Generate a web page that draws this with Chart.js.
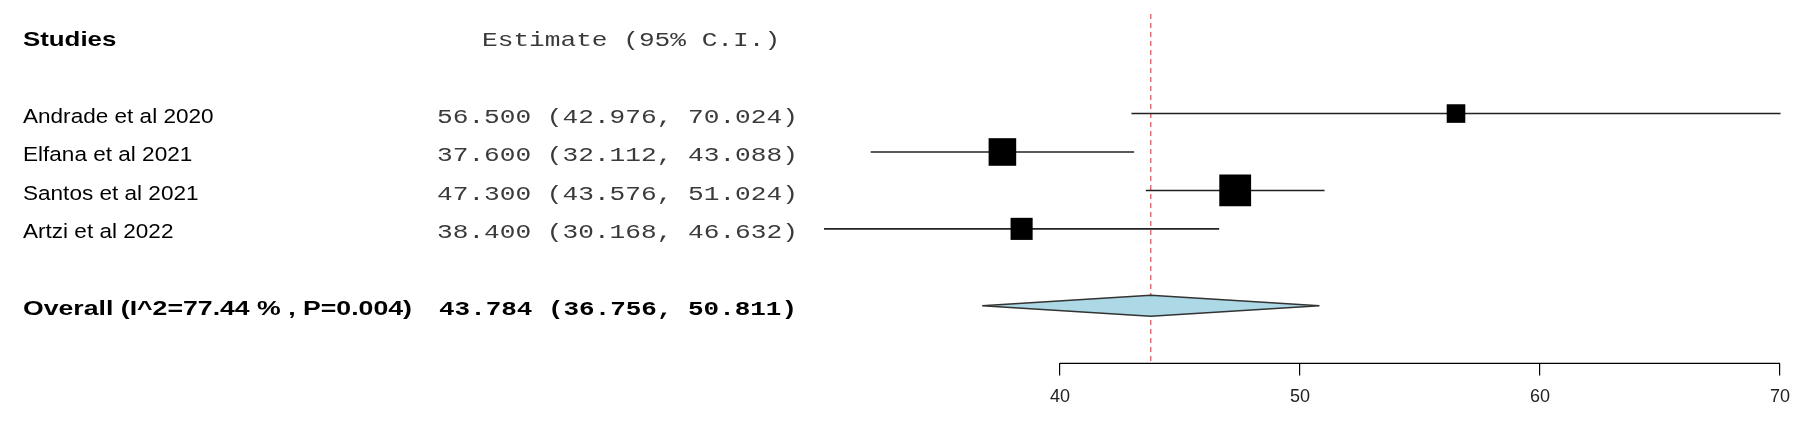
<!DOCTYPE html>
<html>
<head>
<meta charset="utf-8">
<script src="https://cdn.jsdelivr.net/npm/chart.js@4.4.0/dist/chart.umd.min.js"></script>
<style>
  html, body { margin: 0; padding: 0; background: #fff; }
</style>
</head>
<body>
<canvas id="forestChart" width="1807" height="426"></canvas>
<script>
// donnees
const studies = ["Andrade et al 2020", "Elfana et al 2021", "Santos et al 2021", "Artzi et al 2022"];
const estimates = [56.5, 37.6, 47.3, 38.4];
const lowerCI = [42.976, 32.112, 43.576, 30.168];
const upperCI = [70.024, 43.088, 51.024, 46.632];
const weights = [18.6, 27.6, 31.8, 22.1]; // poids relatifs (%), estimes depuis la taille des carres
const overallLabel = "Overall (I^2=77.44 % , P=0.004)";
const overallEst = 43.784;
const overallLower = 36.756;
const overallUpper = 50.811;
const xTicks = [40, 50, 60, 70];

const headerRow = -2;
const overallRow = studies.length + 1;
const X_MIN = 28;
const Y_MIN = -2.59;
const Y_MAX = 6.5;
const BOX_SCALE = 1.0;      // px de cote par % de poids
const DIAMOND_HALF = 0.275; // demi-hauteur du losange en lignes

const sans = "'Liberation Sans', Arial, sans-serif";
const mono = "'Liberation Mono', 'Courier New', monospace";

function fmt(est, lo, hi) {
  return est.toFixed(3) + " (" + lo.toFixed(3) + ", " + hi.toFixed(3) + ")";
}

function drawText(ctx, text, x, y, font, color, sx) {
  ctx.save();
  ctx.translate(x, y);
  ctx.scale(sx, 1);
  ctx.font = font;
  ctx.fillStyle = color;
  ctx.textAlign = "left";
  ctx.textBaseline = "alphabetic";
  ctx.fillText(text, 0, 0);
  ctx.restore();
}

// colonnes de texte a gauche
const textColumns = {
  id: "textColumns",
  afterDraw(chart) {
    const ctx = chart.ctx;
    const y = chart.scales.y;
    const base = (row) => y.getPixelForValue(row) + 9.5;

    drawText(ctx, "Studies", 23, base(headerRow), "bold 20.5px " + sans, "#000", 1.26);
    drawText(ctx, "Estimate (95% C.I.)", 482, base(headerRow), "21px " + mono, "#3a3a3a", 1.245);

    studies.forEach((name, i) => {
      drawText(ctx, name, 23, base(i), "20.5px " + sans, "#000", 1.10);
      drawText(ctx, fmt(estimates[i], lowerCI[i], upperCI[i]), 437, base(i), "21px " + mono, "#3a3a3a", 1.245);
    });

    drawText(ctx, overallLabel, 23, base(overallRow), "bold 20.5px " + sans, "#000", 1.30);
    drawText(ctx, fmt(overallEst, overallLower, overallUpper), 439, base(overallRow), "bold 21px " + mono, "#000", 1.235);
  },
};

// lignes des intervalles de confiance
const ciDatasets = studies.map((name, i) => ({
  type: "scatter",
  label: name,
  data: [
    { x: lowerCI[i], y: i },
    { x: upperCI[i], y: i },
  ],
  showLine: true,
  borderColor: "#222",
  borderWidth: 1.6,
  pointRadius: 0,
  clip: false,
  order: 2,
}));

const datasets = [
  {
    type: "scatter",
    label: "Poids",
    data: estimates.map((v, i) => ({ x: v, y: i })),
    pointStyle: "rect",
    pointRadius: weights.map((w) => (w * BOX_SCALE) / (2 * Math.SQRT1_2)),
    pointBackgroundColor: "#000",
    pointBorderWidth: 0,
    showLine: false,
    clip: false,
    order: 0,
  },
  {
    type: "scatter",
    label: "Overall",
    data: [
      { x: overallLower, y: overallRow },
      { x: overallEst, y: overallRow - DIAMOND_HALF },
      { x: overallUpper, y: overallRow },
      { x: overallEst, y: overallRow + DIAMOND_HALF },
      { x: overallLower, y: overallRow },
    ],
    showLine: true,
    fill: "shape",
    backgroundColor: "#add8e6",
    borderColor: "#333",
    borderWidth: 1.5,
    pointRadius: 0,
    clip: false,
    order: 1,
  },
  ...ciDatasets,
  {
    type: "scatter",
    label: "Ref",
    data: [
      { x: overallEst, y: Y_MIN },
      { x: overallEst, y: Y_MAX },
    ],
    showLine: true,
    borderColor: "rgb(212, 45, 55)",
    borderWidth: 1,
    borderDash: [5, 4],
    pointRadius: 0,
    clip: false,
    order: 3,
  },
  {
    // ligne de l'axe, seulement de 40 a 70
    type: "scatter",
    label: "Axe",
    data: [
      { x: xTicks[0], y: Y_MAX },
      { x: xTicks[xTicks.length - 1], y: Y_MAX },
    ],
    showLine: true,
    borderColor: "#000",
    borderWidth: 1.2,
    pointRadius: 0,
    clip: false,
    order: 4,
  },
];

new Chart(document.getElementById("forestChart").getContext("2d"), {
  type: "scatter",
  data: { datasets },
  options: {
    responsive: false,
    animation: false,
    layout: { autoPadding: false, padding: { left: 772, right: 27, top: 14, bottom: 7 } },
    scales: {
      x: {
        type: "linear",
        position: "bottom",
        min: X_MIN,
        max: 70,
        afterBuildTicks: (scale) => {
          scale.ticks = xTicks.map((v) => ({ value: v }));
        },
        grid: {
          display: true,
          drawOnChartArea: false,
          drawTicks: true,
          tickLength: 12,
          color: "#000",
          lineWidth: 1.2,
        },
        border: { display: false },
        ticks: {
          padding: 11,
          color: "#222",
          font: { family: sans, size: 18 },
        },
      },
      y: {
        type: "linear",
        display: false,
        reverse: true,
        min: Y_MIN,
        max: Y_MAX,
      },
    },
    plugins: {
      legend: { display: false },
      tooltip: { enabled: false },
    },
  },
  plugins: [textColumns],
});
</script>
</body>
</html>
